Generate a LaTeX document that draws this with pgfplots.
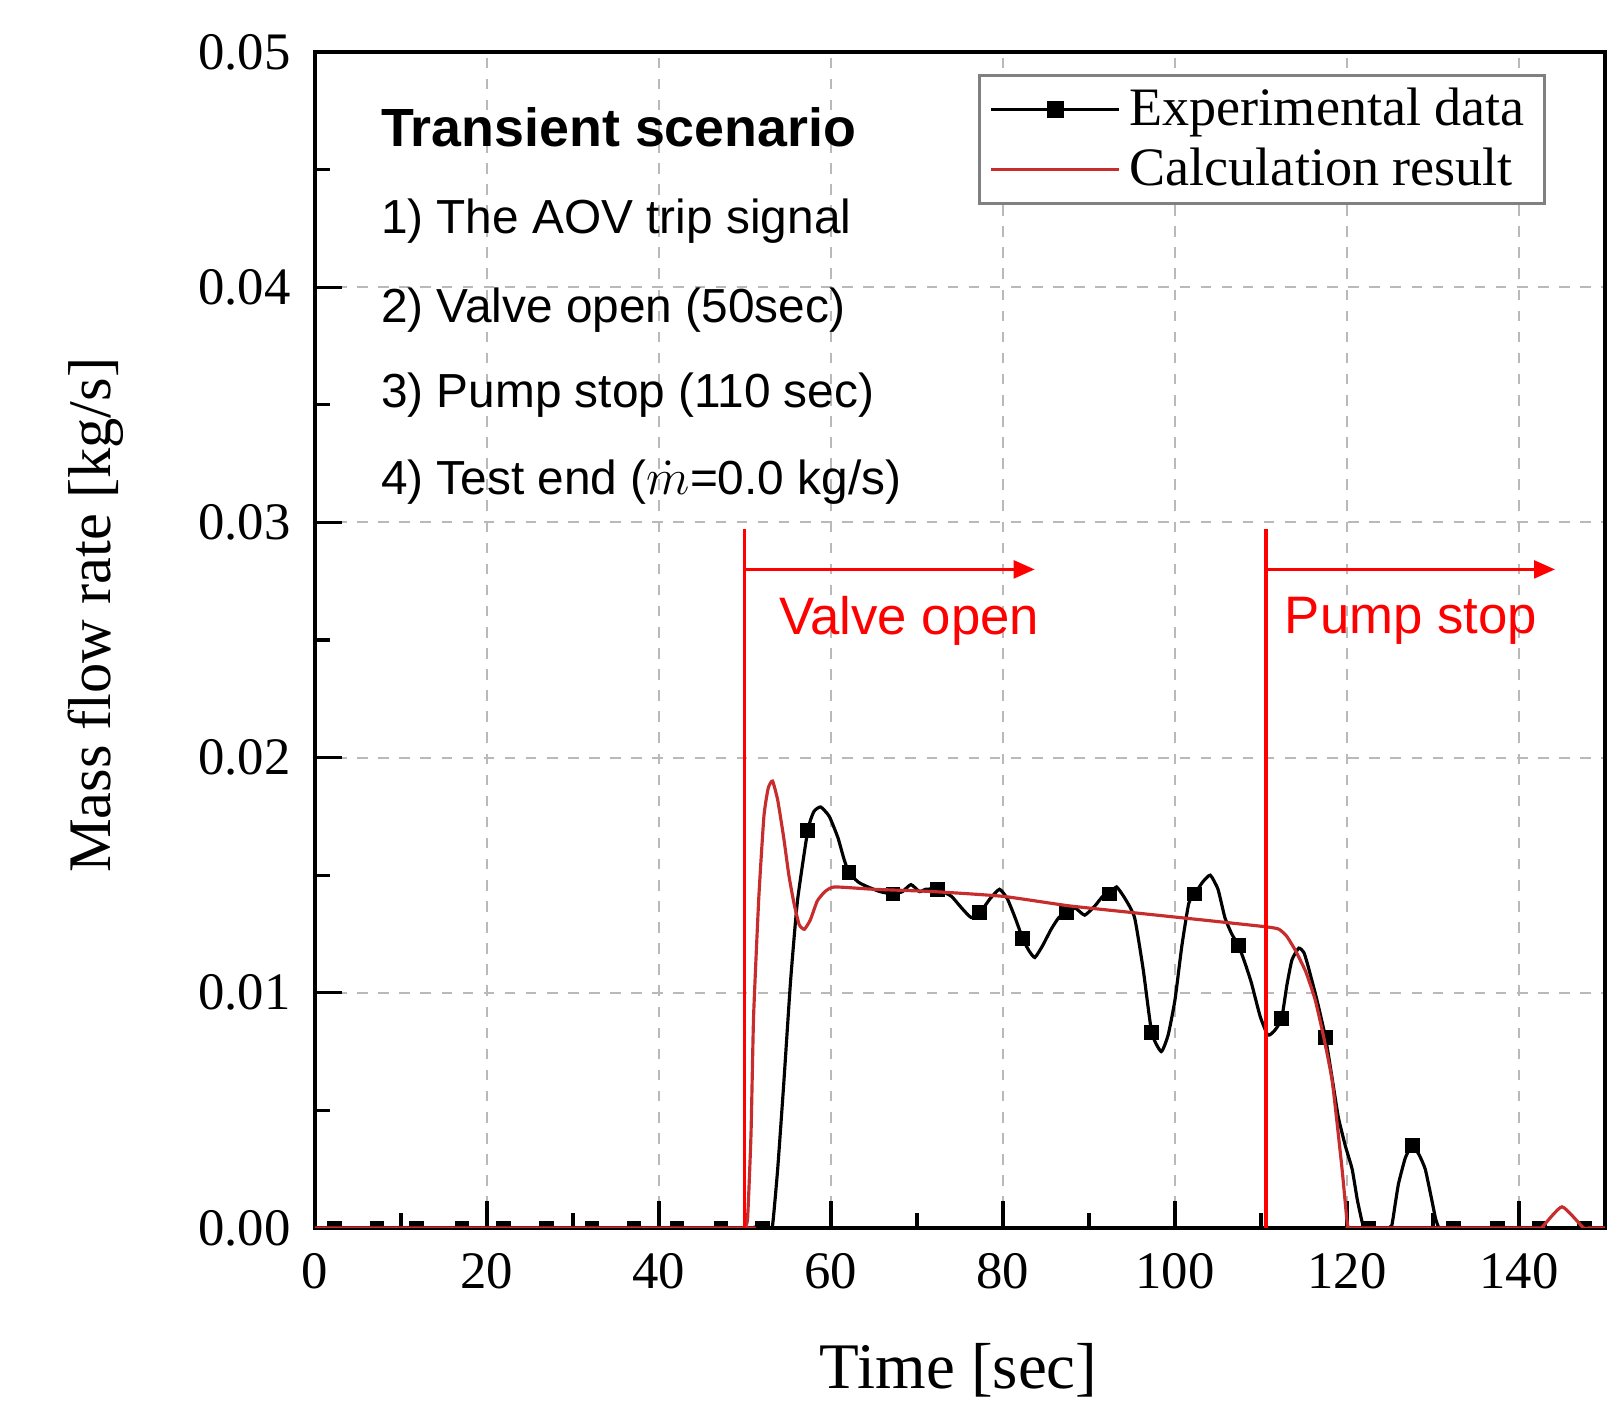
\documentclass[border=0pt]{standalone}
\usepackage{fontspec}
\setmainfont{Liberation Serif}
\newfontfamily\arial{Liberation Sans}
\usepackage{pgfplots}
\pgfplotsset{compat=1.18}
\usetikzlibrary{arrows.meta}

\definecolor{calcred}{RGB}{200,45,45}

\begin{document}
\begin{tikzpicture}
% fixes the page size to the reference proportions
\path (-3.15cm,-1.79cm) rectangle (13.06cm,12.28cm);
\begin{axis}[
    at={(0,0)}, anchor=south west,
    scale only axis,
    width=12.9cm, height=11.76cm,
    xmin=0, xmax=150, ymin=0, ymax=0.05,
    xtick={0,20,40,60,80,100,120,140},
    ytick={0,0.01,0.02,0.03,0.04,0.05},
    minor x tick num=1, minor y tick num=1,
    tick pos=left, tick align=inside,
    major tick length=0.27cm, minor tick length=0.15cm,
    tick style={black, line width=0.9pt},
    axis line style={line width=0.9pt},
    grid=major,
    major grid style={gray!55, dash pattern=on 3pt off 3pt, line width=0.6pt},
    scaled y ticks=false,
    /pgf/number format/assume math mode=true,
    tick label style={font=\fontsize{15}{17}\selectfont},
    yticklabel style={/pgf/number format/fixed, /pgf/number format/fixed zerofill,
        /pgf/number format/precision=2, xshift=-0.12cm},
    xticklabel style={yshift=-0.13cm},
    xlabel={Time [sec]},
    ylabel={Mass flow rate [kg/s]},
    every axis x label/.style={at={(rel axis cs:0.499,0)}, yshift=-1.42cm, anchor=center,
        font=\fontsize{18.5}{21}\selectfont},
    every axis y label/.style={at={(rel axis cs:0,0.521)}, xshift=-2.19cm, rotate=90, anchor=center,
        font=\fontsize{17.2}{20}\selectfont},
    clip marker paths=true,
    legend image code/.code={\draw[mark repeat=2,mark phase=2,#1] plot coordinates {(0cm,0cm) (0.64cm,0cm) (1.28cm,0cm)};},
    legend style={at={(rel axis cs:0.954,0.981)}, anchor=north east, draw=gray, line width=0.8pt,
        font=\fontsize{15.4}{16.5}\selectfont, cells={anchor=west}, inner xsep=3pt, inner ysep=1.5pt,
        row sep=1pt, nodes={inner xsep=2.5pt}},
]
\addlegendimage{black, line width=0.9pt, mark=square*, mark size=1.9pt, mark options={solid}}
\addlegendentry{Experimental data}
\addlegendimage{calcred, line width=0.9pt}
\addlegendentry{Calculation result}

% Experimental data (line)
\addplot[black, line width=0.9pt, smooth, tension=0.3, forget plot] coordinates {
 (0,0) (52.0,0) (52.7,0) (53.2,0.0001) (53.8,0.0025) (54.5,0.0061) (55.3,0.0105) (56.1,0.0139) (57.3,0.0169)
 (58.0,0.0177) (58.8,0.0179) (59.8,0.0175) (60.8,0.0166) (61.5,0.0157) (62.1,0.0151)
 (63.2,0.0147) (64.3,0.0145) (65.7,0.0143) (67.2,0.0142) (68.3,0.0143) (69.3,0.0146)
 (70.3,0.0143) (71.0,0.0144) (72.4,0.0144) (74.0,0.0141) (75.2,0.0136) (76.3,0.0132)
 (77.3,0.0134) (78.5,0.0140) (79.6,0.0144) (80.5,0.0140) (81.4,0.0132) (82.3,0.0123)
 (83.0,0.0118) (83.7,0.0115) (84.6,0.0120) (85.6,0.0127) (86.5,0.0132) (87.4,0.0134)
 (88.4,0.0136) (89.5,0.0133) (90.7,0.0137) (91.6,0.0141) (92.4,0.0142) (93.2,0.0145)
 (94.2,0.0140) (95.3,0.0132) (96.3,0.0110) (97.3,0.0083) (98.4,0.0075) (99.2,0.0082)
 (100.0,0.0097) (100.8,0.0120) (101.6,0.0138) (102.3,0.0142) (103.2,0.0147) (104.1,0.0150)
 (105.0,0.0144) (105.8,0.0132) (106.6,0.0125) (107.4,0.0120) (108.2,0.0112) (108.9,0.0104)
 (109.9,0.0090) (110.8,0.0082) (111.6,0.0084) (112.4,0.0089) (113.0,0.0103) (113.6,0.0114)
 (114.4,0.0119) (115.0,0.0117) (115.5,0.0111) (116.5,0.0097) (117.5,0.0081) (118.3,0.0063)
 (119.0,0.0047) (119.8,0.0035) (120.6,0.0025) (121.2,0.0012) (121.8,0.0002) (122.2,0)
 (122.8,0) (124.6,0) (125.2,0.0001) (125.6,0.0010) (126.0,0.0019) (126.8,0.0030) (127.6,0.0035)
 (128.4,0.0031) (129.1,0.0025) (129.8,0.0013) (130.3,0.0004) (130.7,0) (131.3,0) (148,0)
};
% Experimental data (markers)
\addplot[only marks, mark=square*, mark size=1.9pt, black, forget plot] coordinates {
 (2.3,0) (7.2,0) (11.8,0) (17.1,0) (21.9,0) (26.9,0) (32.2,0) (37.1,0) (42.1,0) (47.2,0)
 (52.0,0) (57.3,0.0169) (62.1,0.0151) (67.2,0.0142) (72.4,0.0144) (77.3,0.0134)
 (82.3,0.0123) (87.4,0.0134) (92.4,0.0142) (97.3,0.0083) (102.3,0.0142) (107.4,0.0120)
 (112.4,0.0089) (117.5,0.0081) (122.5,0) (127.6,0.0035) (132.4,0) (137.5,0) (142.4,0) (147.6,0)
};
% Calculation result
\addplot[calcred, line width=0.9pt, smooth, tension=0.3, forget plot] coordinates {
 (0,0) (49.3,0) (49.9,0) (50.3,0.0004) (50.7,0.0040) (51.0,0.0090) (51.6,0.0140) (52.2,0.0175)
 (52.7,0.0187) (53.2,0.0190) (53.8,0.0182) (54.5,0.0166) (55.1,0.0150) (55.7,0.0138)
 (56.3,0.0129) (56.9,0.0127) (57.6,0.0131) (58.4,0.0139) (59.3,0.0143) (60.4,0.0145)
 (65,0.0144) (72,0.0143) (80,0.0141) (87.6,0.0137) (95.3,0.0134) (103.1,0.0131)
 (110.7,0.0128) (112.1,0.0127) (113.0,0.0124) (114.0,0.0118) (115.2,0.0109) (116.3,0.0097)
 (117.3,0.0081) (118.3,0.0062) (119.4,0.0026) (120.0,0.0003) (120.2,0) (120.8,0) (142.0,0)
 (142.6,0) (145.0,0.0009) (147.5,0) (148.1,0) (150,0)
};

% event markers
\draw[red, line width=1pt] (axis cs:49.95,0) -- (axis cs:49.95,0.0297);
\draw[red, line width=1pt] (axis cs:110.6,0) -- (axis cs:110.6,0.0297);
\draw[red, line width=1pt, -{Triangle[length=6pt,width=5pt]}] (axis cs:49.95,0.0280) -- (axis cs:83.7,0.0280);
\draw[red, line width=1pt, -{Triangle[length=6pt,width=5pt]}] (axis cs:110.6,0.0280) -- (axis cs:144.2,0.0280);
\node[anchor=west, text=red, inner sep=0pt, font=\arial\fontsize{15}{18}\selectfont] at (axis cs:53.9,0.0258) {Valve open};
\node[anchor=west, text=red, inner sep=0pt, font=\arial\fontsize{15}{18}\selectfont] at (axis cs:112.7,0.0258) {Pump stop};

% scenario text
\node[anchor=west, inner sep=0pt, font=\arial\bfseries\fontsize{15.3}{18}\selectfont] at (axis cs:7.6,0.0468) {Transient scenario};
\node[anchor=west, inner sep=0pt, font=\arial\fontsize{13.6}{16}\selectfont] at (axis cs:7.6,0.04282) {1) The AOV trip signal};
\node[anchor=west, inner sep=0pt, font=\arial\fontsize{13.6}{16}\selectfont] at (axis cs:7.6,0.03902) {2) Valve open (50sec)};
\node[anchor=west, inner sep=0pt, font=\arial\fontsize{13.6}{16}\selectfont] at (axis cs:7.6,0.03542) {3) Pump stop (110 sec)};
\node[anchor=west, inner sep=0pt, font=\arial\fontsize{13.6}{16}\selectfont] at (axis cs:7.6,0.03172) {4) Test end ($\dot{m}$=0.0 kg/s)};
\end{axis}
\end{tikzpicture}
\end{document}
